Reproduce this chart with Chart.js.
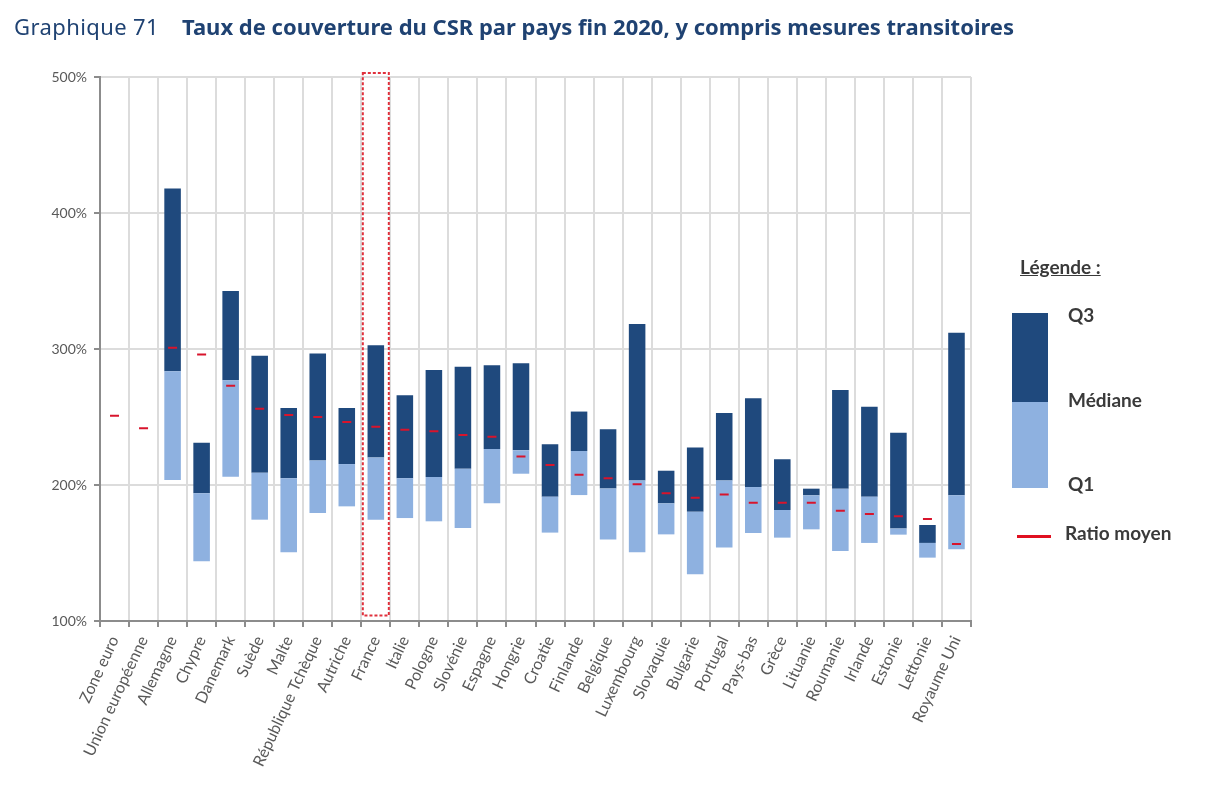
<!DOCTYPE html>
<html lang="fr">
<head>
<meta charset="utf-8">
<title>Graphique 71</title>
<script src="https://cdn.jsdelivr.net/npm/chart.js@4/dist/chart.umd.min.js"></script>
<style>
  body { margin: 0; background: #fff; font-family: Lato, sans-serif; }
  #page { position: relative; width: 1223px; height: 793px; overflow: hidden; }
  #chart { position: absolute; left: 0; top: 0; }
  .txt { position: absolute; white-space: nowrap; }
  #title { left: 14px; top: 11px; font-family: "Noto Sans", sans-serif; font-size: 22px; letter-spacing: 0.4px; color: #1f4272; }
  #title b { position: absolute; left: 168px; letter-spacing: 0; }
  .leg { font-weight: bold; font-size: 19px; color: #3a3a3a; }
  .swatch { position: absolute; left: 1012px; width: 36px; }
</style>
</head>
<body>
<div id="page">
  <canvas id="chart" width="1223" height="793"></canvas>
  <div class="txt" id="title">Graphique 71<b>Taux de couverture du CSR par pays fin 2020, y compris mesures transitoires</b></div>
  <div class="txt leg" style="left:1020px;top:255px;text-decoration:underline">Légende :</div>
  <div class="swatch" style="top:313px;height:89px;background:#1f497d"></div>
  <div class="swatch" style="top:402px;height:86px;background:#8eb1e0"></div>
  <div class="txt leg" style="left:1068px;top:303px">Q3</div>
  <div class="txt leg" style="left:1068px;top:388px">Médiane</div>
  <div class="txt leg" style="left:1068px;top:472px">Q1</div>
  <div style="position:absolute;left:1017px;top:535px;width:34px;height:3px;background:#e01020"></div>
  <div class="txt leg" style="left:1065px;top:521px">Ratio moyen</div>
</div>
<script>
const countries = [
  "Zone euro", "Union européenne", "Allemagne", "Chypre", "Danemark", "Suède",
  "Malte", "République Tchèque", "Autriche", "France", "Italie", "Pologne",
  "Slovénie", "Espagne", "Hongrie", "Croatie", "Finlande", "Belgique",
  "Luxembourg", "Slovaquie", "Bulgarie", "Portugal", "Pays-bas", "Grèce",
  "Lituanie", "Roumanie", "Irlande", "Estonie", "Lettonie", "Royaume Uni",
];
const q1 = [
  null, null, 203.7, 144, 206, 174.5, 150.5, 179.4, 184.3, 174.5, 175.7, 173.3,
  168.4, 186.5, 208.3, 165, 192.6, 160, 150.5, 163.7, 134.3, 154, 164.7, 161.3,
  167.4, 151.5, 157.4, 163.5, 146.6, 152.7,
];
const median = [
  null, null, 283.6, 193.9, 277, 209, 205, 218, 215.4, 220.3, 205, 205.9,
  212, 226.5, 225.5, 191.4, 225, 197.5, 203.4, 186.5, 180.4, 203.4, 198.5, 181.6,
  192.4, 197.3, 191.4, 168, 157.4, 192.4,
];
const q3 = [
  null, null, 418, 231, 342.6, 295, 256.6, 296.6, 256.6, 302.7, 266, 284.6,
  287, 288, 289.5, 230, 254, 241, 318.4, 210.5, 227.5, 253, 263.7, 218.9,
  197.3, 269.9, 257.6, 238.5, 170.6, 312,
];
const ratioMoyen = [
  251, 241.7, 301, 296, 273, 256, 251.5, 250, 246.3, 242.9, 240.7, 239.5,
  236.8, 235.5, 221, 214.7, 207.6, 205, 200.5, 194, 190.7, 193, 187, 187,
  187, 181, 178.7, 177, 175, 156.6,
];
const yTicks = [100, 200, 300, 400, 500];
const highlighted = "France";
const highlightRange = [104, 503];

// dashed box around France
const frameBox = {
  id: "frameBox",
  afterDatasetsDraw(chart) {
    const { ctx, scales: { x, y } } = chart;
    const cx = x.getPixelForValue(countries.indexOf(highlighted));
    const top = y.getPixelForValue(highlightRange[1]);
    const bottom = y.getPixelForValue(highlightRange[0]);
    ctx.save();
    ctx.strokeStyle = "#e0303c";
    ctx.lineWidth = 2;
    ctx.setLineDash([3, 2]);
    ctx.strokeRect(cx - 13, top, 26, bottom - top);
    ctx.restore();
  },
};

new Chart(document.getElementById("chart"), {
  type: "bar",
  plugins: [frameBox],
  data: {
    labels: countries,
    datasets: [
      {
        label: "Q1 - Médiane",
        data: countries.map((c, i) => (q1[i] === null ? null : [q1[i], median[i]])),
        backgroundColor: "#8eb1e0",
        order: 2,
      },
      {
        label: "Médiane - Q3",
        data: countries.map((c, i) => (q3[i] === null ? null : [median[i], q3[i]])),
        backgroundColor: "#1f497d",
        order: 2,
      },
      {
        type: "line",
        label: "Ratio moyen",
        data: ratioMoyen,
        showLine: false,
        pointStyle: "line",
        pointRadius: 4.5,
        pointBorderWidth: 2,
        borderColor: "#d8142c",
        backgroundColor: "#d8142c",
        order: 1,
      },
    ],
  },
  options: {
    responsive: false,
    animation: false,
    layout: { padding: { top: 77, right: 252, left: 0, bottom: 0 } },
    datasets: { bar: { grouped: false, barPercentage: 0.57, categoryPercentage: 1 } },
    plugins: { legend: { display: false }, title: { display: false }, tooltip: { enabled: false } },
    scales: {
      x: {
        afterFit: (scale) => { scale.height = 172; },
        grid: { color: "#dcdcdc", lineWidth: 2, tickColor: "#8c8c8c", tickLength: 6 },
        border: { color: "#8c8c8c", width: 2 },
        ticks: {
          autoSkip: false,
          minRotation: 65,
          maxRotation: 65,
          padding: 6,
          color: "#595959",
          font: { family: "Lato", size: 16 },
        },
      },
      y: {
        min: 100,
        max: 500,
        afterFit: (scale) => { scale.width = 100; },
        afterBuildTicks: (scale) => { scale.ticks = yTicks.map((value) => ({ value })); },
        grid: { color: "#dcdcdc", lineWidth: 2, tickColor: "#8c8c8c", tickLength: 6 },
        border: { color: "#8c8c8c", width: 2 },
        ticks: {
          padding: 7,
          color: "#595959",
          font: { family: "Lato", size: 14 },
          callback: (v) => v + "%",
        },
      },
    },
  },
});
</script>
</body>
</html>
